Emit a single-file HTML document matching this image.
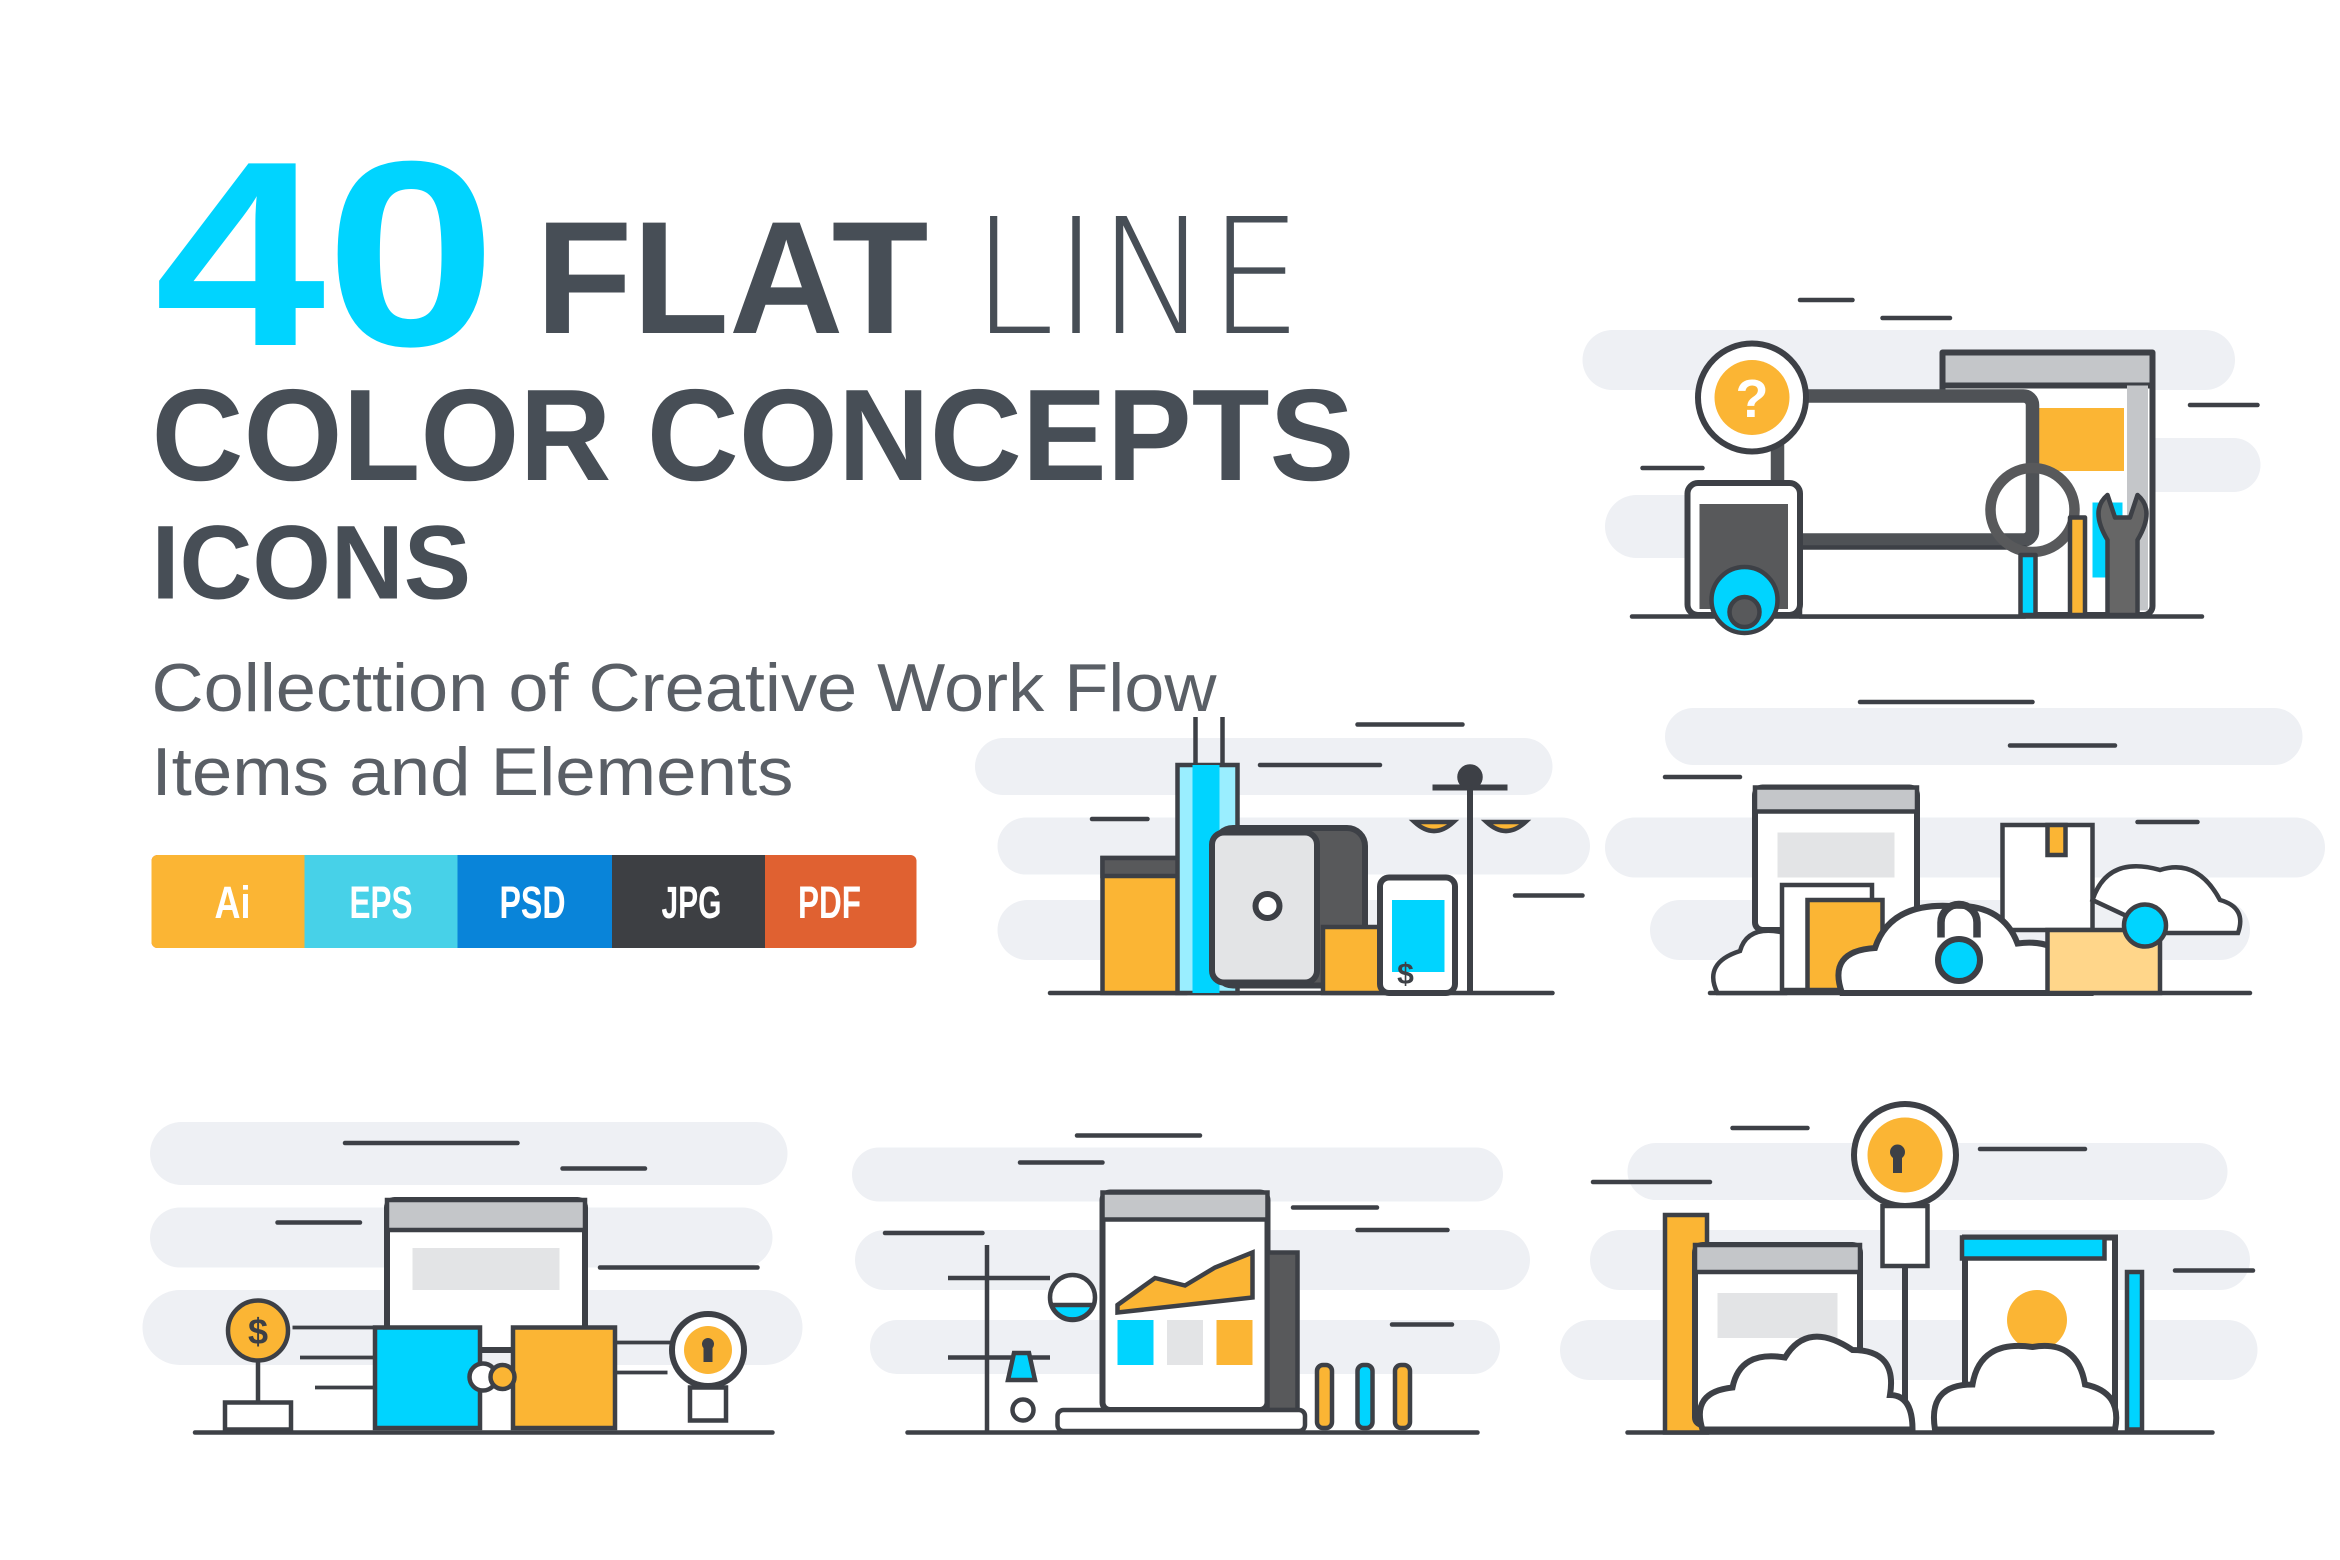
<!DOCTYPE html>
<html><head><meta charset="utf-8"><style>
html,body{margin:0;padding:0;background:#fff;}
svg{display:block}
</style></head><body>
<svg width="2340" height="1560" viewBox="0 0 1560 1040" xmlns="http://www.w3.org/2000/svg">
<rect width="1560" height="1040" fill="#fff"/>
<g font-family="Liberation Sans, sans-serif" fill="#474E56">
<text x="103" y="230" font-size="176" font-weight="bold" fill="#00D4FF" textLength="228" lengthAdjust="spacingAndGlyphs">40</text>
<text x="357" y="222" font-size="107" font-weight="bold" textLength="262" lengthAdjust="spacingAndGlyphs">FLAT</text>
<text x="648" y="222" font-size="107" font-family="DejaVu Sans, Liberation Sans, sans-serif" font-weight="200" textLength="220" lengthAdjust="spacingAndGlyphs">LINE</text>
<text x="101" y="320" font-size="87" font-weight="bold" textLength="802" lengthAdjust="spacingAndGlyphs">COLOR CONCEPTS</text>
<text x="101" y="399" font-size="70" font-weight="bold" textLength="213" lengthAdjust="spacingAndGlyphs">ICONS</text>
<text x="101" y="474" font-size="45" fill="#5a5f66" textLength="710" lengthAdjust="spacingAndGlyphs">Collecttion of Creative Work Flow</text>
<text x="101" y="530" font-size="45" fill="#5a5f66" textLength="428" lengthAdjust="spacingAndGlyphs">Items and Elements</text>
</g>
<rect x="101" y="570" width="510" height="62" rx="4" fill="#E06131"/>
<rect x="101" y="570" width="102" height="62" rx="4" fill="#FBB534"/>
<rect x="150" y="570" width="53" height="62" fill="#FBB534"/>
<rect x="203" y="570" width="102" height="62" fill="#47D1E8"/>
<rect x="305" y="570" width="103" height="62" fill="#0984D9"/>
<rect x="408" y="570" width="102" height="62" fill="#3D3F43"/>
<g font-family="Liberation Sans, sans-serif" font-weight="bold" font-size="30" fill="#fff" text-anchor="middle">
<text x="155" y="612" textLength="24" lengthAdjust="spacingAndGlyphs">Ai</text>
<text x="254" y="612" textLength="42" lengthAdjust="spacingAndGlyphs">EPS</text>
<text x="355" y="612" textLength="44" lengthAdjust="spacingAndGlyphs">PSD</text>
<text x="461" y="612" textLength="40" lengthAdjust="spacingAndGlyphs">JPG</text>
<text x="553" y="612" textLength="42" lengthAdjust="spacingAndGlyphs">PDF</text>
</g>

<g fill="#EEF0F4">
<rect x="1055" y="220" width="435" height="40" rx="20"/>
<rect x="1410" y="292" width="97" height="36" rx="18"/>
<rect x="1070" y="330" width="180" height="42" rx="21"/>
<rect x="650" y="492" width="385" height="38" rx="19"/>
<rect x="665" y="545" width="395" height="38" rx="19"/>
<rect x="665" y="600" width="285" height="40" rx="20"/>
<rect x="1110" y="472" width="425" height="38" rx="19"/>
<rect x="1070" y="545" width="480" height="40" rx="20"/>
<rect x="1100" y="600" width="400" height="40" rx="20"/>
<rect x="100" y="748" width="425" height="42" rx="21"/>
<rect x="100" y="805" width="415" height="40" rx="20"/>
<rect x="95" y="860" width="440" height="50" rx="25"/>
<rect x="568" y="765" width="434" height="36" rx="18"/>
<rect x="570" y="820" width="450" height="40" rx="20"/>
<rect x="580" y="880" width="420" height="36" rx="18"/>
<rect x="1085" y="762" width="400" height="38" rx="19"/>
<rect x="1060" y="820" width="440" height="40" rx="20"/>
<rect x="1040" y="880" width="465" height="40" rx="20"/>
</g>

<g stroke="#3D4046" stroke-width="3" fill="none" stroke-linecap="round">
<line x1="1088" y1="411" x2="1468" y2="411"/>
<line x1="700" y1="662" x2="1035" y2="662"/>
<line x1="1140" y1="662" x2="1500" y2="662"/>
<line x1="130" y1="955" x2="515" y2="955"/>
<line x1="605" y1="955" x2="985" y2="955"/>
<line x1="1085" y1="955" x2="1475" y2="955"/>
<line x1="1200" y1="200" x2="1235" y2="200"/><line x1="1255" y1="212" x2="1300" y2="212"/>
<line x1="1095" y1="312" x2="1135" y2="312"/><line x1="1460" y1="270" x2="1505" y2="270"/>
<line x1="840" y1="510" x2="920" y2="510"/><line x1="728" y1="546" x2="765" y2="546"/><line x1="1010" y1="597" x2="1055" y2="597"/><line x1="905" y1="483" x2="975" y2="483"/>
<line x1="1240" y1="468" x2="1355" y2="468"/><line x1="1110" y1="518" x2="1160" y2="518"/><line x1="1340" y1="497" x2="1410" y2="497"/><line x1="1425" y1="548" x2="1465" y2="548"/>
<line x1="230" y1="762" x2="345" y2="762"/><line x1="375" y1="779" x2="430" y2="779"/><line x1="185" y1="815" x2="240" y2="815"/><line x1="400" y1="845" x2="505" y2="845"/>
<line x1="718" y1="757" x2="800" y2="757"/><line x1="680" y1="775" x2="735" y2="775"/><line x1="590" y1="822" x2="655" y2="822"/><line x1="862" y1="805" x2="918" y2="805"/><line x1="905" y1="820" x2="965" y2="820"/><line x1="928" y1="883" x2="968" y2="883"/>
<line x1="1155" y1="752" x2="1205" y2="752"/><line x1="1320" y1="766" x2="1390" y2="766"/><line x1="1062" y1="788" x2="1140" y2="788"/><line x1="1450" y1="847" x2="1502" y2="847"/>
</g>

<g stroke="#3D4046" stroke-width="4" stroke-linejoin="round">
<rect x="1295" y="235" width="140" height="175" rx="6" fill="#fff"/>
<rect x="1295" y="235" width="140" height="22" fill="#C4C6C9"/>
<rect x="1418" y="257" width="14" height="150" fill="#C4C6C9" stroke="none"/>
<rect x="1352" y="272" width="64" height="42" fill="#FBB534" stroke="none"/>
<rect x="1395" y="335" width="20" height="50" fill="#00D4FF" stroke="none"/>
<rect x="1185" y="264" width="170" height="96" rx="6" fill="#fff" stroke-width="9" stroke="#4f5256"/>
<rect x="1200" y="365" width="150" height="46" fill="#fff" stroke-width="3"/>
<rect x="1125" y="322" width="75" height="88" rx="7" fill="#fff"/>
<rect x="1133" y="336" width="59" height="70" fill="#58595B" stroke="none"/>
<circle cx="1163" cy="400" r="22" fill="#00D4FF" stroke-width="3"/>
<circle cx="1163" cy="408" r="10" fill="#58595B" stroke-width="3"/>
<circle cx="1168" cy="265" r="36" fill="#fff"/>
<circle cx="1168" cy="265" r="25" fill="#FBB534" stroke="none"/>
<circle cx="1355" cy="340" r="28" fill="none" stroke-width="7" stroke="#58595B"/>
<rect x="1347" y="370" width="10" height="40" fill="#00D4FF" stroke-width="3"/>
<rect x="1380" y="345" width="10" height="65" fill="#FBB534" stroke-width="3"/>
<path d="M1405 330 l5 15 l10 0 l5 -15 q12 10 0 30 l0 50 l-20 0 l0 -50 q-12 -20 0 -30z" fill="#666" stroke-width="3"/>
</g>
<text x="1168" y="278" font-family="Liberation Sans, sans-serif" font-weight="bold" font-size="36" fill="#fff" text-anchor="middle">?</text>

<g stroke="#3D4046" stroke-width="3">
<rect x="735" y="572" width="55" height="90" fill="#FBB534"/>
<rect x="735" y="572" width="55" height="12" fill="#58595B"/>
<rect x="785" y="510" width="40" height="152" fill="#9AEEFF"/>
<rect x="795" y="510" width="18" height="152" fill="#00D4FF" stroke="none"/>
<line x1="797" y1="478" x2="797" y2="510"/><line x1="815" y1="478" x2="815" y2="510"/>
<rect x="810" y="552" width="100" height="105" rx="12" fill="#58595B" stroke-width="4"/>
<rect x="808" y="555" width="70" height="100" rx="8" fill="#E3E4E6" stroke-width="4"/>
<circle cx="845" cy="604" r="8" fill="#fff" stroke-width="4"/>
<rect x="882" y="618" width="42" height="44" fill="#FBB534"/>
<circle cx="937" cy="648" r="14" fill="#FBB534"/>
<rect x="920" y="585" width="50" height="77" rx="6" fill="#fff" stroke-width="4"/>
<rect x="928" y="600" width="35" height="48" fill="#00D4FF" stroke="none"/>
<line x1="980" y1="512" x2="980" y2="662" stroke-width="4"/>
<line x1="955" y1="525" x2="1005" y2="525" stroke-width="4"/>
<circle cx="980" cy="518" r="7" fill="#3D4046"/>
<path d="M943 548 q13 12 26 0z M991 548 q13 12 26 0z" fill="#FBB534"/>
</g>
<text x="937" y="656" font-family="Liberation Sans, sans-serif" font-weight="bold" font-size="20" fill="#3D4046" text-anchor="middle">$</text>

<g stroke="#3D4046" stroke-width="3">
<rect x="1170" y="525" width="108" height="95" rx="5" fill="#fff" stroke-width="4"/>
<rect x="1170" y="525" width="108" height="16" fill="#C4C6C9"/>
<rect x="1185" y="555" width="78" height="30" fill="#E3E4E6" stroke="none"/>
<rect x="1335" y="550" width="60" height="70" fill="#fff"/>
<rect x="1365" y="550" width="12" height="20" fill="#FBB534"/>
<path d="M1145 662 q-10 -20 15 -28 q5 -18 30 -12 l0 40z" fill="#fff"/>
<rect x="1188" y="590" width="60" height="70" fill="#fff"/>
<rect x="1205" y="600" width="50" height="60" fill="#FBB534"/>
<path d="M1228 662 q-10 -28 22 -30 q10 -30 50 -28 q35 -2 45 25 q35 -5 48 33z" fill="#fff" stroke-width="4"/>
<path d="M1365 620 l75 0 l0 42 l-75 0z" fill="#FFD68A"/>
<path d="M1395 600 q10 -30 45 -20 q25 -8 40 20 q18 5 12 22 l-50 0z" fill="#fff"/>
<circle cx="1430" cy="617" r="14" fill="#00D4FF"/>
<circle cx="1306" cy="640" r="14" fill="#00D4FF" stroke-width="4"/>
<path d="M1294 625 v-10 a12 12 0 0 1 24 0 v10" fill="none" stroke-width="5"/>
</g>

<g stroke="#3D4046" stroke-width="3">
<rect x="258" y="800" width="132" height="100" rx="5" fill="#fff" stroke-width="4"/>
<rect x="258" y="800" width="132" height="20" fill="#C4C6C9"/>
<rect x="275" y="832" width="98" height="28" fill="#E3E4E6" stroke="none"/>
<rect x="250" y="885" width="70" height="67" fill="#00D4FF"/>
<circle cx="322" cy="918" r="9" fill="#fff"/>
<rect x="342" y="885" width="68" height="67" fill="#FBB534"/>
<circle cx="335" cy="918" r="8" fill="#FBB534"/>
<circle cx="172" cy="887" r="20" fill="#FBB534"/>
<line x1="172" y1="907" x2="172" y2="935"/>
<rect x="150" y="935" width="44" height="18" fill="#fff"/>
<circle cx="472" cy="900" r="24" fill="#fff" stroke-width="4"/>
<circle cx="472" cy="900" r="16" fill="#FBB534" stroke="none"/>
<rect x="460" y="925" width="24" height="22" fill="#fff"/>
</g>
<text x="172" y="896" font-family="Liberation Sans, sans-serif" font-weight="bold" font-size="24" fill="#3D4046" text-anchor="middle">$</text>
<g stroke="#3D4046" stroke-width="2.5"><line x1="195" y1="885" x2="250" y2="885"/><line x1="200" y1="905" x2="250" y2="905"/><line x1="210" y1="925" x2="250" y2="925"/><line x1="410" y1="895" x2="450" y2="895"/><line x1="410" y1="915" x2="445" y2="915"/></g>

<g stroke="#3D4046" stroke-width="3">
<rect x="735" y="795" width="110" height="145" rx="5" fill="#fff" stroke-width="4"/>
<rect x="735" y="795" width="110" height="18" fill="#C4C6C9"/>
<path d="M745 870 l25 -18 l20 5 l20 -12 l25 -10 l0 30 l-90 10z" fill="#FBB534"/>
<rect x="745" y="880" width="24" height="30" fill="#00D4FF" stroke="none"/>
<rect x="778" y="880" width="24" height="30" fill="#E3E4E6" stroke="none"/>
<rect x="811" y="880" width="24" height="30" fill="#FBB534" stroke="none"/>
<rect x="845" y="835" width="20" height="105" fill="#58595B"/>
<rect x="705" y="940" width="165" height="14" rx="4" fill="#fff"/>
<line x1="658" y1="830" x2="658" y2="955"/><line x1="632" y1="852" x2="700" y2="852"/><line x1="632" y1="905" x2="700" y2="905"/>
<circle cx="715" cy="865" r="15" fill="#fff"/>
<path d="M701 870 a15 15 0 0 0 28 0z" fill="#00D4FF"/>
<path d="M672 920 l18 0 l-4 -18 l-10 0z" fill="#00D4FF"/>
<circle cx="682" cy="940" r="7" fill="#fff"/>
<rect x="878" y="910" width="10" height="42" rx="4" fill="#FBB534"/>
<rect x="905" y="910" width="10" height="42" rx="4" fill="#00D4FF"/>
<rect x="930" y="910" width="10" height="42" rx="4" fill="#FBB534"/>
</g>

<g stroke="#3D4046" stroke-width="3">
<rect x="1110" y="810" width="28" height="145" fill="#FBB534"/>
<rect x="1130" y="830" width="110" height="120" rx="5" fill="#fff" stroke-width="4"/>
<rect x="1130" y="830" width="110" height="18" fill="#C4C6C9"/>
<rect x="1145" y="862" width="80" height="30" fill="#E3E4E6" stroke="none"/>
<rect x="1310" y="825" width="100" height="125" fill="#fff" stroke-width="4"/>
<rect x="1308" y="825" width="95" height="14" fill="#00D4FF"/>
<circle cx="1358" cy="880" r="20" fill="#FBB534" stroke="none"/>
<rect x="1418" y="848" width="10" height="105" fill="#00D4FF"/>
<line x1="1270" y1="800" x2="1270" y2="950" stroke-width="4"/>
<circle cx="1270" cy="770" r="34" fill="#fff" stroke-width="4"/>
<circle cx="1270" cy="770" r="25" fill="#FBB534" stroke="none"/>
<rect x="1255" y="804" width="30" height="40" fill="#fff"/>
<path d="M1135 953 q-8 -25 20 -28 q5 -25 35 -20 q15 -25 45 -5 q30 0 25 30 q15 0 15 23z" fill="#fff" stroke-width="4"/>
<path d="M1290 953 q-5 -30 25 -30 q5 -30 40 -25 q30 -5 35 25 q25 5 20 30z" fill="#fff" stroke-width="4"/>
</g>
<g fill="#3D4046">
<circle cx="1265" cy="768" r="5"/><rect x="1262" y="768" width="6" height="14"/>
<circle cx="472" cy="896" r="4"/><rect x="469" y="896" width="6" height="12"/>
</g>
</svg>
</body></html>
